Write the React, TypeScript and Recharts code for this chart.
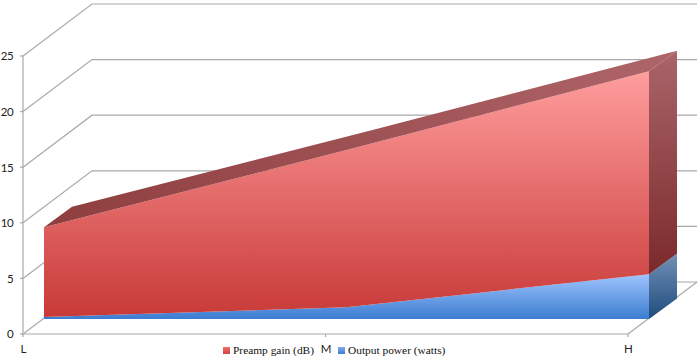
import React from "react";
import { ComposedChart, Area, Line, XAxis, YAxis, Legend } from "recharts";

const categories = ["L", "M", "H"];
const preampGain = [8.1, 14.2, 18.3];
const outputPower = [0.18, 1.05, 4.05];
const floorLevel = [0, 0, 0];
const yTicks = [0, 5, 10, 15, 20, 25];

const data = categories.map((c, i) => ({
  cat: c,
  gain: preampGain[i],
  power: outputPower[i],
  floor: floorLevel[i],
}));

const W = 700;
const H = 361;
const GRID = "#a9a9a9";
const TXT = "#222";
const FONT = "Lato, 'Open Sans', sans-serif";
const WALL = { dx: 69, dy: -52 };
const WALL_WIDTH = 605;
const DEPTH = { dx: 28, dy: -20.5 };
const LAST = categories.length - 1;

type P = { x: number; y: number };
const rec: Record<string, P[]> = { floor: [], power: [], gain: [] };
const poly = (pts: P[]) => pts.map((p) => `${p.x},${p.y}`).join(" ");
const back = (p: P) => ({ x: p.x + DEPTH.dx, y: p.y + DEPTH.dy });

function YTick(props: any) {
  const x0 = props.x + 10;
  const y = props.y;
  const bx = x0 + WALL.dx;
  const by = y + WALL.dy;
  return (
    <g>
      <polyline
        points={`${x0},${y} ${bx},${by} ${bx + WALL_WIDTH},${by}`}
        fill="none"
        stroke={GRID}
        strokeWidth={1.2}
      />
      <line x1={x0 - 3} x2={x0} y1={y} y2={y} stroke={GRID} strokeWidth={1.2} />
      <text x={props.x} y={y + 1.5} textAnchor="end" dominantBaseline="middle" fontSize={11.5} letterSpacing={-0.6} fontFamily={FONT} fill={TXT}>
        {props.payload.value}
      </text>
    </g>
  );
}

function XTick(props: any) {
  const x = props.x;
  const y = props.y;
  return (
    <g>
      <line x1={x} x2={x} y1={y} y2={y + 3} stroke={GRID} strokeWidth={1.2} />
      {props.index === LAST && (
        <line x1={x} y1={y} x2={x + WALL.dx} y2={y + WALL.dy} stroke={GRID} strokeWidth={1.2} />
      )}
      <text x={x + 0.5} y={y + 16} textAnchor="middle" dominantBaseline="middle" fontSize={11.5} fontFamily={FONT} fill={TXT}>
        {props.payload.value}
      </text>
    </g>
  );
}

function recordDot(key: string) {
  return (props: any) => {
    rec[key][props.index] = { x: props.cx, y: props.cy };
    return <g key={`${key}-${props.index}`} />;
  };
}

function powerDot(props: any) {
  rec.power[props.index] = { x: props.cx, y: props.cy };
  const top = rec.power[LAST];
  const base = rec.floor[LAST];
  if (props.index !== LAST || !top || !base) return <g key={`p-${props.index}`} />;
  return (
    <polygon
      key={`p-${props.index}`}
      points={poly([top, back(top), back(base), base])}
      fill="url(#powerSide)"
    />
  );
}

function gainDot(props: any) {
  rec.gain[props.index] = { x: props.cx, y: props.cy };
  const tops = rec.gain;
  const low = rec.power[LAST];
  if (props.index !== LAST || tops.length <= LAST || !low) return <g key={`g-${props.index}`} />;
  const topFace = [...tops, ...tops.map(back).reverse()];
  const t = tops[LAST];
  return (
    <g key={`g-${props.index}`}>
      <polygon points={poly(topFace)} fill="url(#gainTop)" />
      <polygon points={poly([t, back(t), back(low), low])} fill="url(#gainSide)" />
    </g>
  );
}

const legendSwatches: Record<string, string> = {
  "Preamp gain (dB)": "linear-gradient(#ee6f6f,#cf4241)",
  "Output power (watts)": "linear-gradient(#7fa9ee,#3f7fd2)",
};

function LegendBox(props: any) {
  const order = Object.keys(legendSwatches);
  const items = (props.payload || [])
    .filter((p: any) => order.includes(p.value))
    .sort((a: any, b: any) => order.indexOf(a.value) - order.indexOf(b.value));
  return (
    <div style={{ display: "flex", gap: 24, alignItems: "center", fontFamily: "'Liberation Serif', serif", fontSize: 11.4, color: "#111", whiteSpace: "nowrap", lineHeight: "14px" }}>
      {items.map((p: any) => (
        <div key={p.value} style={{ display: "flex", alignItems: "center", gap: 3 }}>
          <span style={{ display: "inline-block", width: 7, height: 7, background: legendSwatches[p.value] }} />
          <span>{p.value}</span>
        </div>
      ))}
    </div>
  );
}

const layer: React.CSSProperties = { position: "absolute", left: 0, top: 0 };

export default function App() {
  return (
    <div style={{ position: "absolute", left: 0, top: 0, width: W, height: H, background: "#fff", overflow: "hidden" }}>
      <div style={layer}>
        <ComposedChart width={W} height={H} data={data} margin={{ left: 22, right: 72, top: 56, bottom: 26 }}>
          <XAxis
            dataKey="cat"
            scale="point"
            padding={{ left: 0, right: 0 }}
            interval={0}
            height={1}
            axisLine={{ stroke: GRID, strokeWidth: 1.2 }}
            tickLine={false}
            tickSize={0}
            tickMargin={0}
            tick={<XTick />}
          />
          <YAxis
            domain={[0, 25]}
            ticks={yTicks}
            interval={0}
            width={1}
            axisLine={{ stroke: GRID, strokeWidth: 1.2 }}
            tickLine={false}
            tickSize={0}
            tickMargin={10}
            tick={<YTick />}
          />
          <Line dataKey="floor" stroke="none" dot={false} legendType="none" isAnimationActive={false} />
        </ComposedChart>
      </div>
      <div style={layer}>
        <ComposedChart width={W} height={H} data={data} margin={{ left: 44, right: 51, top: 42, bottom: 42 }}>
          <defs>
            <linearGradient id="gainFront" x1="0" y1="0" x2="0" y2="1">
              <stop offset="0" stopColor="#ff9d9d" />
              <stop offset="1" stopColor="#c83a38" />
            </linearGradient>
            <linearGradient id="powerFront" x1="0" y1="0" x2="0" y2="1">
              <stop offset="0" stopColor="#9fc4ff" />
              <stop offset="1" stopColor="#3c7dd1" />
            </linearGradient>
            <linearGradient id="gainTop" x1="0" y1="0" x2="1" y2="0">
              <stop offset="0" stopColor="#8f3e3f" />
              <stop offset="1" stopColor="#ae6569" />
            </linearGradient>
            <linearGradient id="gainSide" x1="0" y1="0" x2="0" y2="1">
              <stop offset="0" stopColor="#aa656a" />
              <stop offset="1" stopColor="#7b2a2b" />
            </linearGradient>
            <linearGradient id="powerSide" x1="0" y1="0" x2="0" y2="1">
              <stop offset="0" stopColor="#7290b6" />
              <stop offset="1" stopColor="#1f4c7e" />
            </linearGradient>
          </defs>
          <XAxis dataKey="cat" scale="point" padding={{ left: 0, right: 0 }} hide />
          <YAxis domain={[0, 25]} hide />
          <Line
            dataKey="floor"
            stroke="none"
            legendType="none"
            isAnimationActive={false}
            dot={recordDot("floor")}
          />
          <Area
            dataKey="power"
            name="Output power (watts)"
            stackId="s"
            type="linear"
            stroke="none"
            fill="url(#powerFront)"
            fillOpacity={1}
            isAnimationActive={false}
            dot={powerDot}
          />
          <Area
            dataKey="gain"
            name="Preamp gain (dB)"
            stackId="s"
            type="linear"
            stroke="none"
            fill="url(#gainFront)"
            fillOpacity={1}
            isAnimationActive={false}
            dot={gainDot}
          />
          <Legend
            layout="horizontal"
            verticalAlign="middle"
            align="center"
            content={<LegendBox />}
            wrapperStyle={{ position: "absolute", left: 223, top: 343, width: "auto" }}
          />
        </ComposedChart>
      </div>
    </div>
  );
}
